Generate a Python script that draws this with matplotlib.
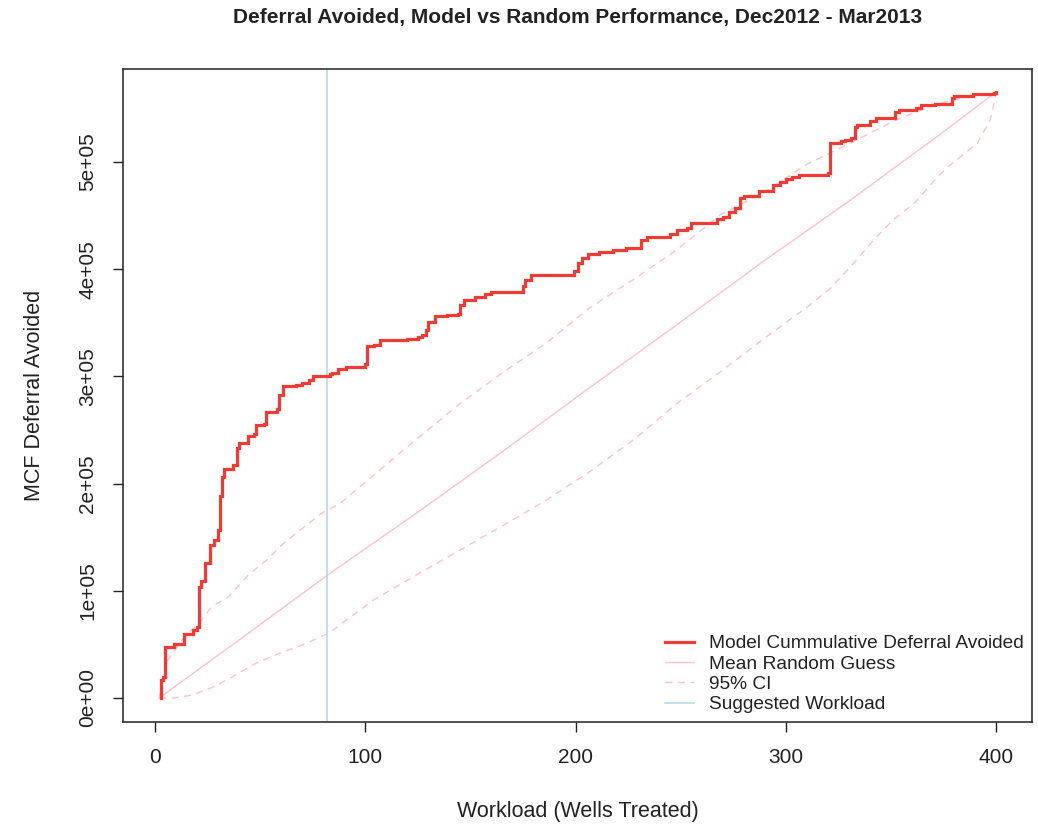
import matplotlib
matplotlib.use("Agg")
import matplotlib.pyplot as plt
from matplotlib.lines import Line2D

plt.rcParams['font.family'] = ['Liberation Sans', 'DejaVu Sans']

# Model cumulative deferral avoided (step curve)
model_x = [3, 3, 4, 5, 9, 14, 18, 20, 21, 22, 24, 26, 28, 30, 31, 32, 33, 37, 39, 40,
           44, 47, 48, 52, 53, 58, 59, 61, 67, 70, 73, 75, 83, 84, 87, 91, 99, 100, 101, 104,
           107, 120, 125, 127, 129, 130, 133, 139, 144, 145, 147, 152, 157, 160, 175, 176, 179, 199, 201, 203,
           206, 211, 218, 224, 231, 234, 242, 245, 248, 253, 255, 265, 267, 270, 273, 276, 278, 280, 285, 287,
           294, 297, 300, 303, 306, 320, 321, 326, 328, 331, 333, 334, 338, 340, 343, 352, 354, 362, 364, 371,
           377, 379, 380, 389, 399, 400]
model_y = [0, 17000, 20000, 48000, 50000, 60000, 63000, 66000, 104000, 109000, 126000, 143000, 147000, 157000, 188000, 206000, 214000, 217000, 233000, 238000,
           244000, 246000, 255000, 256000, 267000, 270000, 283000, 291000, 292000, 294000, 297000, 300500, 302000, 303500, 306500, 308500, 309000, 312000, 328000, 329500,
           334000, 334500, 336500, 338500, 343500, 351000, 356000, 357500, 358000, 366500, 371500, 374500, 376500, 379000, 384000, 390000, 394500, 398000, 405500, 410500,
           414500, 416500, 418000, 419500, 427000, 430000, 430500, 433000, 437000, 438000, 443000, 443500, 446500, 448500, 453000, 457000, 466000, 468000, 468500, 473000,
           478500, 481500, 484000, 486000, 488000, 490000, 517500, 519500, 521000, 522000, 533000, 534500, 535000, 538500, 541000, 547000, 548500, 550000, 553000, 554000,
           554500, 559500, 562000, 563500, 564000, 565500]

# Mean random guess
mean_x = [2, 42, 83, 124, 166, 207, 248, 289, 331, 372, 400]
mean_y = [0, 57000, 116000, 172000, 231000, 290000, 348000, 407000, 465000, 524000, 565500]

# 95% CI upper
ci_up_x = [2, 6, 14, 21, 27, 35, 45, 53, 61, 69, 79, 88, 104, 124, 145, 166, 186, 207, 228, 248,
           269, 289, 310, 331, 351, 362, 373, 386, 399, 400]
ci_up_y = [0, 35000, 57000, 70000, 85000, 94500, 116000, 128500, 144000, 156500, 172000, 181500, 208000, 241000, 274500, 304500, 331000, 364500, 391000, 418000,
           451000, 471000, 498000, 518000, 538000, 547000, 554500, 561000, 564000, 565500]

# 95% CI lower
ci_lo_x = [2, 9, 18, 28, 37, 48, 59, 72, 83, 104, 124, 145, 166, 186, 207, 228, 248, 269, 289, 310,
           321, 331, 342, 351, 361, 372, 377, 391, 397, 399, 400]
ci_lo_y = [0, 0, 2800, 10500, 20000, 32500, 41500, 51000, 61000, 91500, 114500, 138000, 161500, 184500, 211500, 241500, 274500, 304500, 334500, 364500,
           382000, 403000, 428000, 446000, 461500, 486000, 495500, 517500, 539000, 555000, 565500]

suggested_workload = 82

x_ticks = [0, 100, 200, 300, 400]
y_ticks = [0, 100000, 200000, 300000, 400000, 500000]
y_ticklabels = ["0e+00", "1e+05", "2e+05", "3e+05", "4e+05", "5e+05"]

red = '#EE3B33'
pink = '#FFC0CB'
lightblue = '#ADD8E6'
dash = (0, (5, 4))

fig = plt.figure(figsize=(10.38, 8.25), dpi=100)
W, H = 1038, 825
left_px, right_px, top_px, bot_px = 123, 1032, 69, 722
ax = fig.add_axes([left_px / W, 1 - bot_px / H, (right_px - left_px) / W, (bot_px - top_px) / H])

ax.plot(mean_x, mean_y, color=pink, lw=1.0)
ax.plot(ci_up_x, ci_up_y, color=pink, lw=1.0, ls=dash)
ax.plot(ci_lo_x, ci_lo_y, color=pink, lw=1.0, ls=dash)
ax.axvline(suggested_workload, color=lightblue, lw=1.1)
ax.plot(model_x, model_y, color=red, lw=2.3, drawstyle='steps-post', solid_joinstyle='miter')

ax.set_xlim(-15.2, 417.0)
ax.set_ylim(-22400, 586800)
ax.set_xticks(x_ticks)
ax.set_xticklabels([str(v) for v in x_ticks])
ax.set_yticks(y_ticks)
ax.set_yticklabels(y_ticklabels, rotation=90, va='center')
ax.tick_params(axis='both', length=7.5, width=1.0, labelsize=15, color='#222222', labelcolor='#222222')
ax.tick_params(axis='x', pad=11)
ax.tick_params(axis='y', pad=11)
for s in ax.spines.values():
    s.set_linewidth(1.1)
    s.set_color('#222222')

fig.text(0.5 * (left_px + right_px) / W, 1 - 18 / H, "Deferral Avoided, Model vs Random Performance, Dec2012 - Mar2013",
         ha='center', va='center', fontsize=15, fontweight='bold', color='#222222')
fig.text((left_px + right_px) / 2 / W, 1 - 812 / H, "Workload (Wells Treated)", ha='center', va='center', fontsize=15.5, color='#222222')
fig.text(35 / W, 1 - (top_px + bot_px) / 2 / H, "MCF Deferral Avoided", ha='center', va='center', rotation=90, fontsize=15.5, color='#222222')

handles = [Line2D([], [], color=red, lw=2.3),
           Line2D([], [], color=pink, lw=1.0),
           Line2D([], [], color=pink, lw=1.0, ls=dash),
           Line2D([], [], color=lightblue, lw=1.1)]
labels = ["Model Cummulative Deferral Avoided", "Mean Random Guess", "95% CI", "Suggested Workload"]
leg = ax.legend(handles, labels, loc='lower right', frameon=False, fontsize=13.8,
                handlelength=1.55, handletextpad=0.75, labelspacing=0.15,
                bbox_to_anchor=(1.0, 0.0), borderaxespad=0.05)
for t in leg.get_texts():
    t.set_color('#222222')

fig.savefig("out.png", dpi=100, facecolor='white')
